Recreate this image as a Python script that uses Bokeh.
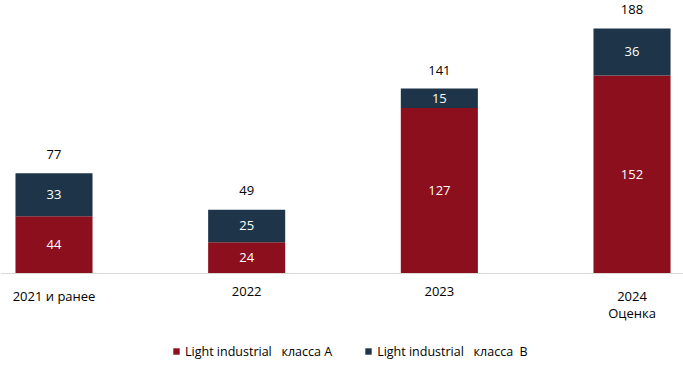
from bokeh.plotting import figure
from bokeh.models import ColumnDataSource, Range1d, Legend, LegendItem, Span
from bokeh.core.properties import value
from bokeh.embed import file_html
from bokeh.resources import INLINE

categories = ["2021 и ранее", "2022", "2023", "2024\nОценка"]
class_a = [44, 24, 127, 152]
class_b = [33, 25, 15, 36]
totals = [77, 49, 141, 188]
series_names = ["Light industrial\u00a0\u00a0\u00a0класса A", "Light industrial\u00a0\u00a0\u00a0класса\u00a0\u00a0B"]

RED = "#8c0f1d"
NAVY = "#1e3549"
FONT = "Open Sans"

xs = list(range(len(categories)))
src = ColumnDataSource(dict(
    x=xs,
    zero=[0] * len(xs),
    cat=categories,
    a=class_a,
    b=class_b,
    top_b=[a + b for a, b in zip(class_a, class_b)],
    mid_a=[a / 2 for a in class_a],
    mid_b=[a + b / 2 for a, b in zip(class_a, class_b)],
    a_txt=[str(v) for v in class_a],
    b_txt=[str(v) for v in class_b],
    tot=totals,
    tot_txt=[str(v) for v in totals],
))

p = figure(width=683, height=374, output_backend="svg", toolbar_location=None,
           x_range=Range1d(-0.2777, 3.2672), y_range=Range1d(-77.5, 209.5),
           x_axis_location=None, y_axis_location=None,
           min_border_left=0, min_border_right=0, min_border_top=0, min_border_bottom=0)
p.outline_line_color = None
p.xgrid.visible = False
p.ygrid.visible = False
p.background_fill_color = "white"
p.border_fill_color = "white"

# category axis baseline
p.add_layout(Span(location=0, dimension="width", line_color="#d9d9d9", line_width=1))

ra = p.vbar(x="x", bottom=0, top="a", width=0.4, source=src, fill_color=RED, line_color=None)
rb = p.vbar(x="x", bottom="a", top="top_b", width=0.4, source=src, fill_color=NAVY, line_color=None)

p.text(x="x", y="mid_a", text="a_txt", source=src, text_align="center", text_baseline="middle",
       text_color="white", text_font=value(FONT), text_font_size="13px")
p.text(x="x", y="mid_b", text="b_txt", source=src, text_align="center", text_baseline="middle",
       text_color="white", text_font=value(FONT), text_font_size="13px")
p.text(x="x", y="tot", text="tot_txt", source=src, text_align="center", text_baseline="middle",
       y_offset=-19, text_color="black", text_font=value(FONT), text_font_size="13px")

# category labels under the baseline
p.text(x="x", y="zero", text="cat", source=src, text_align="center", text_baseline="top",
       y_offset=13, text_color="black", text_font=value(FONT), text_font_size="13px",
       text_line_height=0.95)

legend = Legend(items=[LegendItem(label=series_names[0], renderers=[ra]),
                       LegendItem(label=series_names[1], renderers=[rb])],
                orientation="horizontal", location=(172, 13),
                label_text_font=FONT, label_text_font_size="12.5px", label_text_color="black",
                glyph_width=8, glyph_height=8, spacing=32, padding=0, margin=0,
                label_height=20,
                border_line_alpha=0, background_fill_alpha=0, label_standoff=5)
p.add_layout(legend, "center")

open("out.html", "w").write(file_html(p, INLINE))
